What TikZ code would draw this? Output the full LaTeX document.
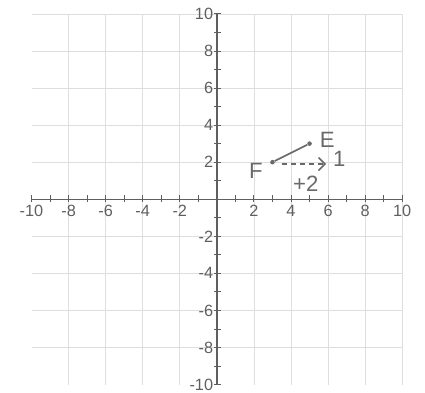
\documentclass[tikz,border=0pt]{standalone}
\usepackage{fontspec}
\setmainfont{Liberation Sans}
\usetikzlibrary{positioning, arrows.meta}
\definecolor{axiscolor}{RGB}{95,95,95}
\definecolor{gridcolor}{RGB}{222,222,222}
\definecolor{pencolor}{RGB}{105,105,105}

\begin{document}
\begin{tikzpicture}[x=0.5cm, y=0.5cm,
    ticklabel/.style={text=axiscolor, font=\fontsize{12.5}{14}\selectfont, inner sep=1pt},
    pointlabel/.style={text=pencolor, font=\fontsize{17}{19}\selectfont, inner sep=1pt},
    dot/.style={circle, fill=pencolor, inner sep=0pt, minimum size=3.5pt}]
    \useasboundingbox (-11.7,-10.4) rectangle (11.23,10.75);
    % grid
    \draw[gridcolor, line width=0.5pt] (-10,-10) grid (10,10);
    % axes
    \draw[axiscolor, line width=1pt] (-10,0) -- (10,0);
    \draw[axiscolor, line width=1pt] (0,-10) -- (0,10);
    \foreach \t in {-10,...,10} {
        \draw[axiscolor, line width=0.7pt] (\t,-0.15) -- (\t,0.25);
        \draw[axiscolor, line width=0.7pt] (-0.15,\t) -- (0.25,\t);
    }
    \foreach \t in {-10,-8,-6,-4,-2,2,4,6,8,10} {
        \node[ticklabel, below=2pt] (xl\t) at (\t,-0.1) {\t};
        \node[ticklabel, left=1pt] (yl\t) at (-0.05,\t) {\t};
    }
    % segment FE
    \node[dot] (F) at (3,2) {};
    \node[dot] (E) at (5,3) {};
    \draw[pencolor, line width=1.3pt] (F) -- (E);
    \node[pointlabel] (Flabel) at (2.1,1.55) {F};
    \node[pointlabel] (Elabel) at (5.95,3.2) {E};
    % translation hint
    \coordinate (hstart) at (3.5,1.9);
    \coordinate (hend) at (5.9,1.9);
    \draw[pencolor, line width=1.3pt, dash pattern=on 4pt off 3pt, -{Straight Barb[length=5pt]}] (hstart) -- (hend);
    \node[pointlabel] (uplabel) at (6.6,2.2) {1};
    \node[pointlabel] (rightlabel) at (4.8,0.85) {+2};
\end{tikzpicture}
\end{document}
